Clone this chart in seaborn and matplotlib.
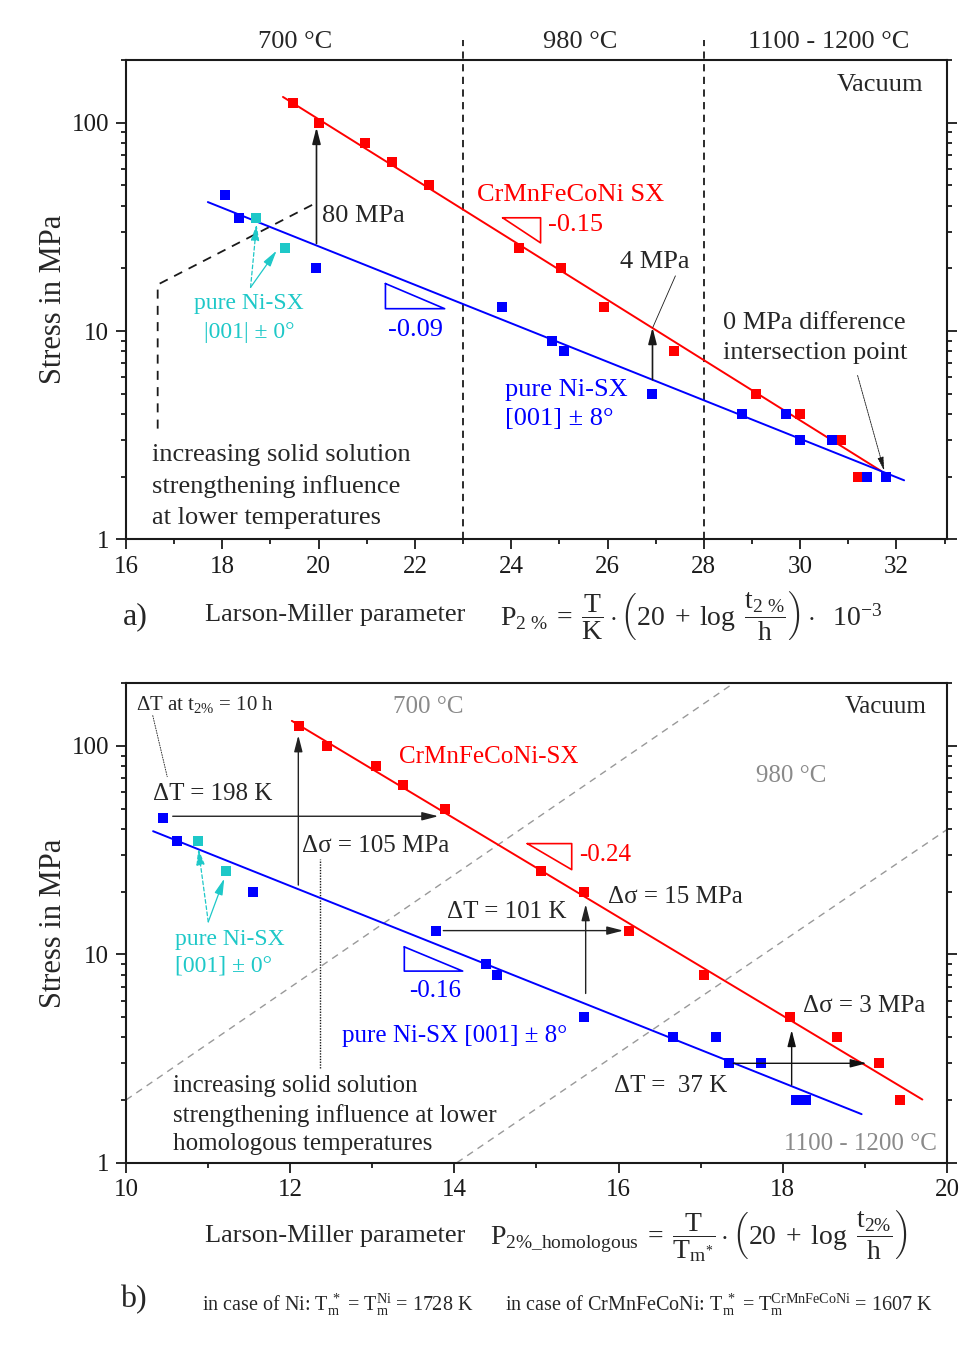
import matplotlib
matplotlib.use("Agg")
import matplotlib.pyplot as plt
import matplotlib.transforms as mtransforms
from matplotlib.ticker import (FixedLocator, FixedFormatter, LogLocator,
                               NullFormatter, MultipleLocator)
import numpy as np
import seaborn as sns

sns.set_theme(style="ticks")
plt.rcParams["font.family"] = ["Liberation Serif", "DejaVu Serif"]
plt.rcParams["mathtext.fontset"] = "custom"
plt.rcParams["mathtext.rm"] = "Liberation Serif"
plt.rcParams["mathtext.it"] = "Liberation Serif:italic"
plt.rcParams["mathtext.bf"] = "Liberation Serif:bold"

RED = "#ff0000"
BLUE = "#0000ff"
CYAN = "#1ec8c8"
GREY = "#8a8a8a"

# stress at 2 % creep strain (MPa)
hea_stress = [125, 100, 80, 65, 50, 25, 20, 13, 8, 5, 4, 3, 2]
ni8_stress = [45, 35, 20, 13, 9, 8, 5, 4, 4, 3, 3, 2, 2]
ni0_stress = [35, 25]

# Larson-Miller parameter P_2% (x 1e-3)
hea_lmp = [19.46, 20.00, 20.96, 21.52, 22.29, 24.17, 25.03, 25.93, 27.39,
           29.09, 30.00, 30.85, 31.21]
ni8_lmp = [18.05, 18.34, 19.94, 23.80, 24.84, 25.10, 26.93, 28.80, 29.71,
           29.99, 30.66, 31.38, 31.79]
ni0_lmp = [18.70, 19.30]

# homologous Larson-Miller parameter
hea_lmp_h = [12.11, 12.45, 13.04, 13.38, 13.88, 15.05, 15.58, 16.13, 17.04,
             18.09, 18.66, 19.17, 19.43]
ni8_lmp_h = [10.45, 10.62, 11.55, 13.77, 14.38, 14.52, 15.58, 16.66, 17.19,
             17.35, 17.74, 18.16, 18.28]
ni0_lmp_h = [10.88, 11.22]

# regression lines, end points
hea_fit_lmp, hea_fit_stress = [19.26, 31.68], [133.0, 2.13]
ni8_fit_lmp, ni8_fit_stress = [17.70, 32.16], [41.6, 1.92]
hea_fit_lmp_h, hea_fit_stress_h = [12.02, 19.70], [132.0, 2.01]
ni8_fit_lmp_h, ni8_fit_stress_h = [10.33, 18.96], [39.0, 1.71]

# iso-temperature guides in the homologous plot
iso_lines = [([10.0, 17.40], [2.0, 200.0]), ([14.03, 20.0], [1.0, 39.7])]

# temperature regimes of the absolute plot
regime_bounds = [23.0, 28.0]
regime_labels = ["700 °C", "980 °C", "1100 - 1200 °C"]
regime_label_x = [19.52, 25.44, 30.585]

y_major = [1, 10, 100]
y_labels = ["1", "10", "100"]

fig = plt.figure(figsize=(9.79, 13.49), dpi=100)
ax1 = fig.add_axes([0.1287, 0.6002, 0.8386, 0.3553])
ax2 = fig.add_axes([0.1287, 0.1381, 0.8386, 0.3554])


def style_axes(ax, xlim):
    ax.set_yscale("log")
    ax.set_xlim(*xlim)
    ax.set_ylim(1, 200)
    ax.xaxis.set_major_locator(MultipleLocator(2))
    ax.xaxis.set_minor_locator(MultipleLocator(1))
    ax.yaxis.set_major_locator(FixedLocator(y_major))
    ax.yaxis.set_major_formatter(FixedFormatter(y_labels))
    ax.yaxis.set_minor_locator(LogLocator(base=10, subs=np.arange(2, 10)))
    ax.yaxis.set_minor_formatter(NullFormatter())
    ax.tick_params(which="both", direction="out", left=True, right=True,
                   bottom=True, top=False, labelright=False, labelsize=18,
                   width=1.3, colors="k", pad=5)
    ax.tick_params(which="major", length=7)
    ax.tick_params(which="minor", length=3.5)
    for s in ax.spines.values():
        s.set_visible(True)
        s.set_linewidth(1.5)
        s.set_color("k")
    ax.set_xlabel("")
    ax.set_ylabel("Stress in MPa", fontsize=22, labelpad=3)
    ax.set_facecolor("white")


def squares(ax, x, y, color):
    sns.scatterplot(x=x, y=y, marker="s", s=52, color=color, linewidth=0,
                    ax=ax, legend=False, zorder=4)


def fitline(ax, x, y, color):
    sns.lineplot(x=x, y=y, color=color, lw=1.4, ax=ax, legend=False,
                 estimator=None, zorder=3)


def arrow(ax, tail, tip, color="k", lw=1.2, ls="-"):
    ax.annotate("", xy=tip, xytext=tail, zorder=5,
                arrowprops=dict(arrowstyle="-|>,head_length=0.7,head_width=0.18",
                                color=color, lw=lw, ls=ls, shrinkA=0,
                                shrinkB=0, mutation_scale=14))


def triangle(ax, xs, ys, color):
    ax.plot(list(xs) + [xs[0]], list(ys) + [ys[0]], color=color, lw=1.2,
            zorder=3)


# ---------------- a) absolute Larson-Miller parameter ----------------
style_axes(ax1, (16, 33.05))
fitline(ax1, hea_fit_lmp, hea_fit_stress, RED)
fitline(ax1, ni8_fit_lmp, ni8_fit_stress, BLUE)
squares(ax1, hea_lmp, hea_stress, RED)
squares(ax1, ni8_lmp, ni8_stress, BLUE)
squares(ax1, ni0_lmp, ni0_stress, CYAN)

trans1 = mtransforms.blended_transform_factory(ax1.transData, ax1.transAxes)
for xb in regime_bounds:
    ax1.plot([xb, xb], [0, 1.0417], transform=trans1, color="k", lw=1.3,
             ls=(0, (4, 3)), clip_on=False, zorder=2)
for lab, xl in zip(regime_labels, regime_label_x):
    ax1.text(xl, 1.0376, lab, transform=trans1, ha="center", va="center",
             fontsize=19)

ax1.text(0.971, 0.948, "Vacuum", transform=ax1.transAxes, ha="right",
         va="center", fontsize=19)
ax1.text(23.28, 45.1, "CrMnFeCoNi SX", color=RED, ha="left", va="center",
         fontsize=19)
triangle(ax1, [23.822, 24.61, 24.61], [34.97, 34.97, 26.5], RED)
ax1.text(24.755, 32.4, "-0.15", color=RED, ha="left", va="center", fontsize=19)
triangle(ax1, [21.388, 21.388, 22.618], [16.9, 12.8, 12.8], BLUE)
ax1.text(22.017, 10.17, "-0.09", color=BLUE, ha="center", va="center",
         fontsize=19)
ax1.text(23.863, 4.42, "pure Ni-SX\n[001] ± 8°", color=BLUE, ha="left",
         va="center", fontsize=19, linespacing=1.42)
ax1.text(18.552, 11.54, "pure Ni-SX\n|001| ± 0°", color=CYAN, ha="center",
         va="center", fontsize=17, linespacing=1.45)
arrow(ax1, (18.587, 16.2), (18.712, 32.6), color=CYAN, lw=0.9, ls=(0, (3, 2)))
arrow(ax1, (18.587, 16.2), (19.127, 24.3), color=CYAN, lw=0.9)

# solid-solution strengthening guide
ax1.plot([16.658, 16.658, 19.873], [3.40, 16.7, 40.4], color="k", lw=1.3,
         ls=(0, (5, 4)), zorder=2)
ax1.text(16.533, 1.80,
         "increasing solid solution\nstrengthening influence\nat lower temperatures",
         ha="left", va="center", fontsize=19, linespacing=1.52)

arrow(ax1, (19.956, 26.3), (19.956, 95.0))
ax1.text(20.066, 35.7, "80 MPa", ha="left", va="center", fontsize=19)
arrow(ax1, (26.934, 5.84), (26.934, 10.4))
ax1.plot([27.41, 26.94], [18.4, 10.4], color="k", lw=0.6, zorder=3)
ax1.text(26.975, 21.4, "4 MPa", ha="center", va="center", fontsize=19)
ax1.text(28.392, 9.21, "0 MPa difference\nintersection point", ha="left",
         va="center", fontsize=19, linespacing=1.47)
ax1.annotate("", xy=(31.747, 2.13), xytext=(31.193, 6.12), zorder=5,
             arrowprops=dict(arrowstyle="-|>,head_length=0.7,head_width=0.15",
                             color="k", lw=0.6, ls=(0, (2, 1)), shrinkA=0,
                             shrinkB=0, mutation_scale=12))

# ---------------- b) homologous Larson-Miller parameter ----------------
style_axes(ax2, (10, 20))
for xs, ys in iso_lines:
    ax2.plot(xs, ys, color="#999999", lw=1.0, ls=(0, (5, 4)), zorder=1)
fitline(ax2, hea_fit_lmp_h, hea_fit_stress_h, RED)
fitline(ax2, ni8_fit_lmp_h, ni8_fit_stress_h, BLUE)
squares(ax2, hea_lmp_h, hea_stress, RED)
squares(ax2, ni8_lmp_h, ni8_stress, BLUE)
squares(ax2, ni0_lmp_h, ni0_stress, CYAN)

ax2.text(0.9753, 0.9506, "Vacuum", transform=ax2.transAxes, ha="right",
         va="center", fontsize=18)
ax2.text(13.678, 153.3, "700 °C", color=GREY, ha="center", va="center",
         fontsize=18)
ax2.text(18.10, 71.6, "980 °C", color=GREY, ha="center", va="center",
         fontsize=18)
ax2.text(19.875, 1.23, "1100 - 1200 °C", color=GREY, ha="right", va="center",
         fontsize=18)
ax2.text(13.329, 88.3, "CrMnFeCoNi-SX", color=RED, ha="left", va="center",
         fontsize=18)
triangle(ax2, [14.888, 15.429, 15.429], [34.0, 34.0, 25.5], RED)
ax2.text(15.521, 29.9, "-0.24", color=RED, ha="left", va="center", fontsize=18)
triangle(ax2, [13.39, 13.39, 14.101], [10.86, 8.31, 8.31], BLUE)
ax2.text(13.77, 6.66, "-0.16", color=BLUE, ha="center", va="center",
         fontsize=18)
ax2.text(12.635, 4.05, "pure Ni-SX [001] ± 8°", color=BLUE, ha="left",
         va="center", fontsize=18)
ax2.text(10.597, 10.13, "pure Ni-SX\n[001] ± 0°", color=CYAN, ha="left",
         va="center", fontsize=17, linespacing=1.34)
arrow(ax2, (11.002, 14.32), (10.881, 32.2), color=CYAN, lw=0.9, ls=(0, (3, 2)))
arrow(ax2, (11.002, 14.32), (11.197, 23.1), color=CYAN, lw=0.9)

ax2.text(10.122, 158.5, r"ΔT at t$_{2\%}$ = 10 h", ha="left", va="center",
         fontsize=15)
ax2.plot([10.325, 10.503], [140.4, 71.0], color="k", lw=0.6, ls=(0, (2, 1)))

ax2.text(10.333, 58.7, "ΔT = 198 K", ha="left", va="center", fontsize=18)
arrow(ax2, (10.569, 46.0), (13.804, 46.0), color="#222222", lw=1.0)
arrow(ax2, (12.099, 21.5), (12.099, 112.5), color="#222222", lw=1.0)
ax2.text(12.14, 33.0, "Δσ = 105 MPa", ha="left", va="center", fontsize=18)
ax2.plot([12.363, 12.363], [2.84, 28.8], color="k", lw=1.0, ls=(0, (1, 1)))

ax2.text(13.906, 15.9, "ΔT = 101 K", ha="left", va="center", fontsize=18)
arrow(ax2, (13.865, 13.0), (16.057, 13.0), color="#222222", lw=1.0)
arrow(ax2, (15.599, 6.49), (15.599, 17.4), color="#222222", lw=1.0)
ax2.text(15.875, 18.8, "Δσ = 15 MPa", ha="left", va="center", fontsize=18)

ax2.text(15.944, 2.33, "ΔT =  37 K", ha="left", va="center", fontsize=18)
arrow(ax2, (17.397, 3.0), (19.022, 3.0), color="#111111", lw=1.0)
arrow(ax2, (18.108, 2.36), (18.108, 4.33), color="#111111", lw=1.0)
ax2.text(18.25, 5.64, "Δσ = 3 MPa", ha="left", va="center", fontsize=18)

ax2.text(10.576, 1.69,
         "increasing solid solution\nstrengthening influence at lower\nhomologous temperatures",
         ha="left", va="center", fontsize=18, linespacing=1.38)

# ---------------- axis captions ----------------
fig.text(0.138, 0.5426, "a)", ha="center", va="center", fontsize=23)
fig.text(0.2094, 0.5441, "Larson-Miller parameter", ha="left", va="center",
         fontsize=19)
fig.text(0.5107, 0.5441,
         r"$\mathrm{P}_{2\ \%}\;=\;\dfrac{\mathrm{T}}{\mathrm{K}}\cdot"
         r"\left(20\;+\;\log\ \dfrac{\mathrm{t}_{2\ \%}}{\mathrm{h}}\right)"
         r"\cdot\ \ 10^{-3}$",
         ha="left", va="center", fontsize=20)

fig.text(0.1359, 0.0363, "b)", ha="center", va="center", fontsize=23)
fig.text(0.2094, 0.0838, "Larson-Miller parameter", ha="left", va="center",
         fontsize=19)
fig.text(0.5005, 0.0838,
         r"$\mathrm{P}_{2\%\_\mathrm{homologous}}\;=\;"
         r"\dfrac{\mathrm{T}}{\mathrm{T}_{\mathrm{m}^{*}}}\cdot"
         r"\left(20\;+\;\log\ \dfrac{\mathrm{t}_{2\%}}{\mathrm{h}}\right)$",
         ha="left", va="center", fontsize=20)
fig.text(0.2063, 0.0326,
         r"in case of Ni: T$_\mathrm{m}^{\ *}$ = T$_\mathrm{m}^\mathrm{Ni}$ = 1728 K",
         ha="left", va="center", fontsize=14.5)
fig.text(0.5158, 0.0326,
         r"in case of CrMnFeCoNi: T$_\mathrm{m}^{\ *}$ = "
         r"T$_\mathrm{m}^\mathrm{CrMnFeCoNi}$ = 1607 K",
         ha="left", va="center", fontsize=14.5)

fig.savefig("out.png", dpi=100, facecolor="white")
